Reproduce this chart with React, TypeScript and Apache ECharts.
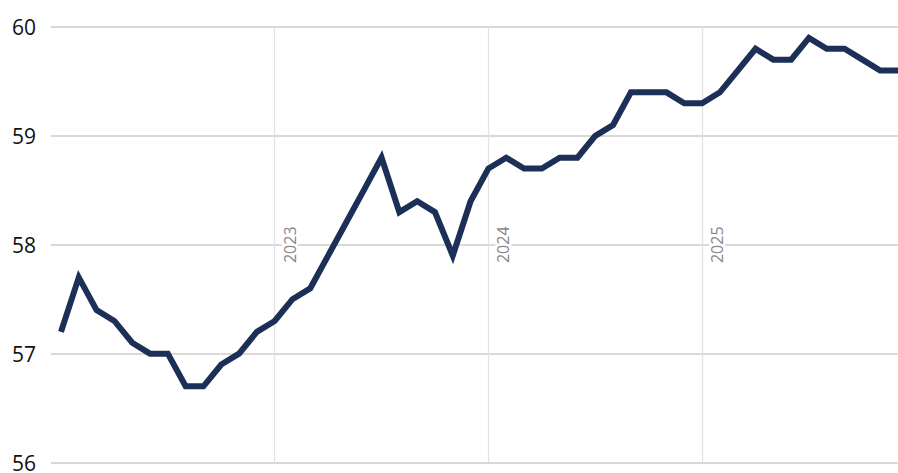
import React, { useEffect, useRef } from "react";
import * as echarts from "echarts";

// Monthly values, Jan 2022 – Dec 2025
const values2022 = [57.2, 57.7, 57.4, 57.3, 57.1, 57.0, 57.0, 56.7, 56.7, 56.9, 57.0, 57.2];
const values2023 = [57.3, 57.5, 57.6, 57.9, 58.2, 58.5, 58.8, 58.3, 58.4, 58.3, 57.9, 58.4];
const values2024 = [58.7, 58.8, 58.7, 58.7, 58.8, 58.8, 59.0, 59.1, 59.4, 59.4, 59.4, 59.3];
const values2025 = [59.3, 59.4, 59.6, 59.8, 59.7, 59.7, 59.9, 59.8, 59.8, 59.7, 59.6, 59.6];
const values = [...values2022, ...values2023, ...values2024, ...values2025];

const yearMarks = [
  { index: 12, label: "2023" },
  { index: 24, label: "2024" },
  { index: 36, label: "2025" },
];

const yTicks = { min: 56, max: 60, interval: 1 };

export default function App() {
  const ref = useRef<HTMLDivElement>(null);
  useEffect(() => {
    if (!ref.current) return;
    const chart = echarts.init(ref.current, undefined, { renderer: "svg" });
    const font = "'Open Sans', 'Noto Sans', sans-serif";
    chart.setOption({
      animation: false,
      grid: { left: 51, right: 0, top: 27, bottom: 7, containLabel: false },
      xAxis: {
        type: "value",
        min: -0.56,
        max: values.length - 1,
        axisLine: { show: false },
        axisTick: { show: false },
        axisLabel: { show: false },
        splitLine: { show: false },
      },
      yAxis: {
        type: "value",
        min: yTicks.min,
        max: yTicks.max,
        interval: yTicks.interval,
        axisLine: { show: false },
        axisTick: { show: false },
        axisLabel: { fontSize: 21, color: "#111111", margin: 15, fontFamily: font },
        splitLine: { lineStyle: { color: "#cccccc", width: 1.5 } },
      },
      series: [
        {
          type: "line",
          data: [],
          z: 1,
          silent: true,
          markLine: {
            z: 1,
            silent: true,
            symbol: "none",
            lineStyle: { color: "#e2e2e2", width: 1.2, type: "solid" },
            label: {
              show: true,
              position: "insideMiddleBottom",
              formatter: (p: any) => p.name,
              fontSize: 16,
              color: "#888888",
              fontFamily: font,
              backgroundColor: "#ffffff",
              padding: [0, 2],
              distance: 7,
            },
            data: yearMarks.map((m) => [
              { name: m.label, coord: [m.index, yTicks.min] },
              { coord: [m.index, yTicks.max] },
            ]),
          },
        },
        {
          type: "line",
          z: 10,
          data: values.map((v, i) => [i, v]),
          symbol: "none",
          lineStyle: { color: "#1c2f57", width: 6, cap: "butt", join: "miter" },
          clip: false,
        },
      ],
    });
    return () => chart.dispose();
  }, []);
  return <div ref={ref} style={{ width: 898, height: 473, position: "absolute", left: 0, top: 0 }} />;
}
